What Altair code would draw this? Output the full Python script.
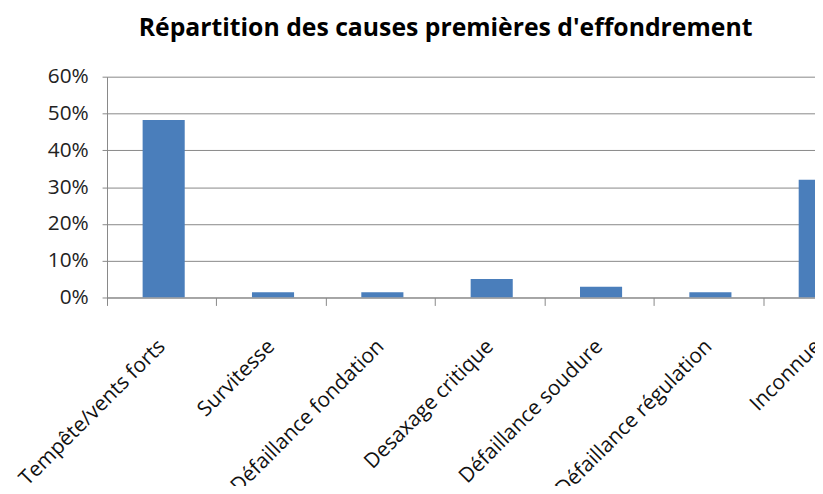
import altair as alt
import pandas as pd

categories = [
    "Tempête/vents forts",
    "Survitesse",
    "Défaillance fondation",
    "Desaxage  critique",
    "Défaillance soudure",
    "Défaillance régulation",
    "Inconnue",
]
shares = [0.482, 0.014, 0.014, 0.050, 0.029, 0.014, 0.320]
y_ticks = [0, 0.1, 0.2, 0.3, 0.4, 0.5, 0.6]

df = pd.DataFrame({"cause": categories, "part": shares})

FONT = "Open Sans"
GRAY = "#888888"

chart = (
    alt.Chart(df)
    .mark_bar(color="#4A7EBB", clip=True, width={"band": 0.385}, xOffset=2)
    .encode(
        x=alt.X(
            "cause:N",
            sort=categories,
            title=None,
            scale=alt.Scale(range=[0, 773], paddingInner=0, paddingOuter=0),
            axis=alt.Axis(
                labelAngle=-45,
                labelAlign="right",
                labelBaseline="middle",
                labelFont=FONT,
                labelFontSize=21,
                labelColor="#111111",
                labelPadding=38,
                labelOverlap=False,
                labelLimit=400,
                tickBand="extent",
                tickSize=8,
                tickColor=GRAY,
                domainColor=GRAY,
                grid=False,
            ),
        ),
        y=alt.Y(
            "part:Q",
            title=None,
            scale=alt.Scale(domain=[0, 0.6], nice=False),
            axis=alt.Axis(
                values=y_ticks,
                format=".0%",
                labelFont=FONT,
                labelFontSize=21,
                labelColor="#222222",
                labelPadding=14,
                tickSize=5,
                tickColor=GRAY,
                domainColor=GRAY,
                gridColor=GRAY,
                gridWidth=1,
            ),
        ),
    )
    .properties(
        width=715,
        height=223,
        autosize=alt.AutoSizeParams(type="none"),
        padding={"left": 100, "top": 67, "right": 0, "bottom": 188},
        title=alt.TitleParams(
            "Répartition des causes premières d'effondrement",
            font=FONT,
            fontSize=25,
            fontWeight="bold",
            color="#000000",
            anchor="start",
            frame="group",
            dx=32,
            offset=25,
        ),
    )
    .configure_view(stroke=None)
)

chart.save("out.html", embed_options={"renderer": "svg", "actions": False})
